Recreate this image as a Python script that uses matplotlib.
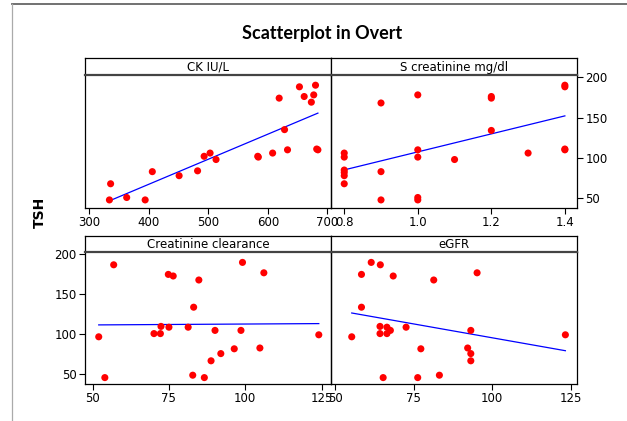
import numpy as np
import matplotlib
matplotlib.use('Agg')
import matplotlib.pyplot as plt
from matplotlib.lines import Line2D

# CK IU/L vs TSH
ck_x = [334, 336, 363, 394, 406, 451, 482, 493, 503, 513, 583, 584, 608,
        619, 628, 633, 653, 661, 673, 677, 680, 682, 684]
ck_y = [48, 68, 51, 48, 83, 78, 84, 102, 106, 98, 102, 101, 106,
        174, 135, 110, 188, 176, 169, 178, 190, 111, 110]

# S creatinine mg/dl vs TSH
sc_x = [0.8, 0.8, 0.8, 0.8, 0.8, 0.8, 0.9, 0.9, 0.9, 1.0, 1.0, 1.0, 1.0,
        1.0, 1.1, 1.2, 1.2, 1.2, 1.3, 1.4, 1.4, 1.4, 1.4]
sc_y = [106, 101, 85, 82, 78, 68, 168, 83, 48, 178, 110, 101, 51,
        48, 98, 176, 174, 134, 106, 190, 188, 111, 110]

# Creatinine clearance vs TSH
cc_x = [56.9, 74.8, 76.4, 84.8, 99.1, 106.1, 83.1, 72.4, 75.0, 81.3, 70.1, 72.2,
        90.1, 98.6, 52.0, 124.1, 96.4, 104.8, 92.0, 88.8, 54.0, 82.8, 86.6]
cc_y = [187, 175, 173, 168, 190, 177, 134, 110, 109, 109, 101, 101,
        105, 105, 97, 99.5, 82, 83, 76, 67, 46, 49, 46]

# eGFR vs TSH
eg_x = [61.5, 64.4, 58.4, 68.5, 81.4, 95.2, 58.4, 64.3, 66.5, 67.6, 72.6, 64.3,
        66.5, 55.3, 93.2, 123.3, 77.3, 92.2, 93.2, 93.2, 65.3, 76.3, 83.2]
eg_y = [190, 187, 175, 173, 168, 177, 134, 110, 109, 105, 109, 101,
        101, 97, 105, 99.5, 82, 83, 76, 67, 46, 46, 49]

panels = [
    ("CK IU/L", ck_x, ck_y, (293, 706), [300, 400, 500, 600, 700], ['300', '400', '500', '600', '700']),
    ("S creatinine mg/dl", sc_x, sc_y, (0.764, 1.433), [0.8, 1.0, 1.2, 1.4], ['0.8', '1.0', '1.2', '1.4']),
    ("Creatinine clearance", cc_x, cc_y, (47.5, 128.1), [50, 75, 100, 125], ['50', '75', '100', '125']),
    ("eGFR", eg_x, eg_y, (48.7, 127), [50, 75, 100, 125], ['50', '75', '100', '125']),
]

W, H = 627, 421
fig = plt.figure(figsize=(W / 100, H / 100), dpi=100)
plt.rcParams['font.family'] = 'DejaVu Sans'

# pixel boxes: left, right, strip top, strip bottom, axes bottom
boxes = [(85, 331, 58, 74.7, 208), (331, 577, 58, 74.7, 208),
         (85, 331, 236, 252, 384), (331, 577, 236, 252, 384)]

for i, (name, xs, ys, xlim, xt, xtl) in enumerate(panels):
    l, r, st, sb, b = boxes[i]

    # strip with the panel name
    sax = fig.add_axes([l / W, 1 - sb / H, (r - l) / W, (sb - st) / H], zorder=1)
    sax.set_xticks([])
    sax.set_yticks([])
    for s in sax.spines.values():
        s.set_linewidth(0.9)
    sax.spines['bottom'].set_visible(False)
    sax.text(0.5, 0.45, name, ha='center', va='center', fontsize=8.5,
             transform=sax.transAxes)

    ax = fig.add_axes([l / W, 1 - b / H, (r - l) / W, (b - sb) / H], zorder=2)
    ax.patch.set_alpha(0)
    ax.scatter(xs, ys, s=26, c='#ff0000', edgecolors='none', zorder=3)
    k, c0 = np.polyfit(xs, ys, 1)
    lx = np.array([min(xs), max(xs)])
    ax.plot(lx, k * lx + c0, color='#0000ff', linewidth=0.9, zorder=2)
    ax.set_xlim(*xlim)
    ax.set_ylim(38, 203)
    ax.set_xticks(xt)
    ax.set_xticklabels(xtl)
    ax.tick_params(axis='both', direction='out', length=4, width=0.8,
                   labelsize=8.5, pad=2, colors='black')
    for s in ax.spines.values():
        s.set_linewidth(0.9)
    ax.spines['top'].set_color('#444444')
    ax.spines['top'].set_linewidth(1.6)
    if i == 1:
        ax.yaxis.tick_right()
        ax.set_yticks([50, 100, 150, 200])
    elif i == 2:
        ax.set_yticks([50, 100, 150, 200])
    else:
        ax.set_yticks([])

fig.text(322 / W, 1 - 34 / H, "Scatterplot in Overt", ha='center', va='center',
         fontsize=13, fontweight='bold', family='Lato')
fig.text(40 / W, 1 - 212 / H, "TSH", ha='center', va='center', rotation=90,
         fontsize=10, fontweight='bold')

# screenshot frame lines
fig.add_artist(Line2D([12 / W, 1], [1 - 3.8 / H, 1 - 3.8 / H], color='#666666', linewidth=1.3))
fig.add_artist(Line2D([12.3 / W, 12.3 / W], [0, 1 - 3.8 / H], color='#aaaaaa', linewidth=0.9))

fig.savefig('out.png', dpi=100)
